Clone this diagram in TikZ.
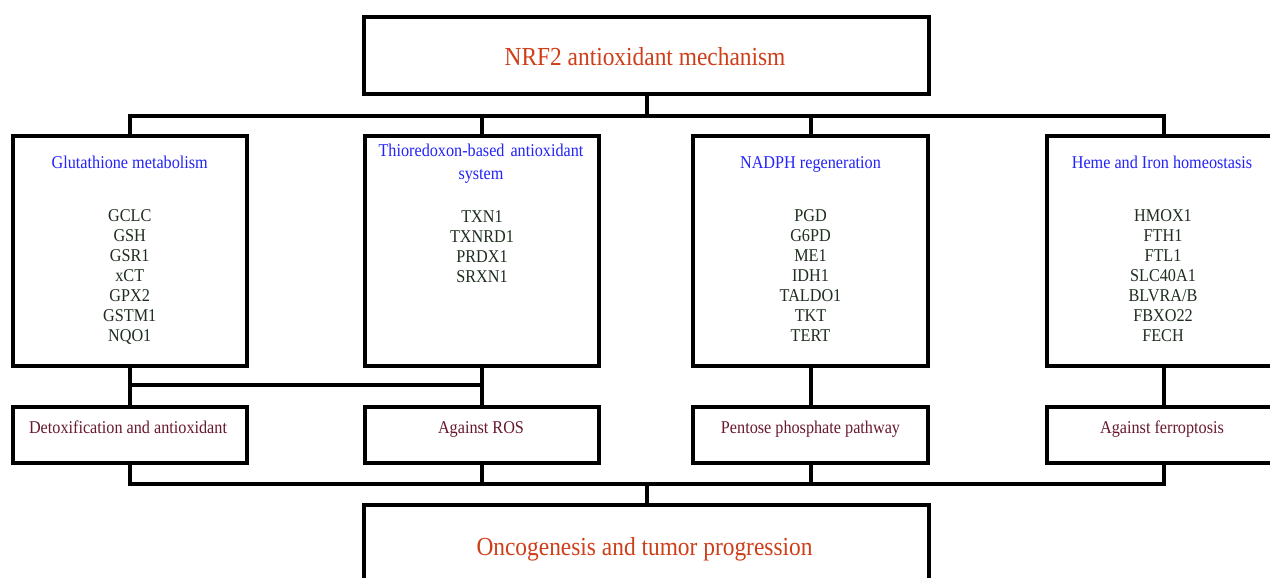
\documentclass[tikz,border=0pt]{standalone}
\usepackage{fontspec}
\setmainfont{Liberation Serif}[FakeStretch=0.9]
\definecolor{titlered}{RGB}{206,62,24}
\definecolor{hdrblue}{RGB}{35,35,250}
\definecolor{genetext}{RGB}{30,45,30}
\definecolor{rowtext}{RGB}{105,25,45}
\begin{document}
\begin{tikzpicture}[x=1pt,y=-1pt,
  box/.style={draw, line width=4pt, fill=white, inner sep=0pt, minimum width=234.5pt},
  bigbox/.style={draw, line width=4pt, fill=white, inner sep=0pt, minimum width=565pt},
  wire/.style={line width=4pt, line join=miter},
  bigtext/.style={anchor=base, inner sep=0pt, text=titlered, font=\fontsize{26}{30}\selectfont},
  hdr/.style={anchor=base, inner sep=0pt, text=hdrblue, font=\fontsize{18}{22}\selectfont},
  genes/.style={anchor=base, inner sep=0pt, text=genetext, text width=200pt, align=center, font=\fontsize{18}{20}\selectfont},
  rowlabel/.style={anchor=base, inner sep=0pt, text=rowtext, font=\fontsize{18}{22}\selectfont}
]
\useasboundingbox (0,0) rectangle (1270,578);
\clip (0,0) rectangle (1270,578);
\fill[white] (0,0) rectangle (1270,578);

% boxes
\node[bigbox, minimum height=77pt] (top) at (646.5,55.5) {};
\node[box, minimum height=230pt] (b1) at (129.75,251) {};
\node[box, minimum height=230pt] (b2) at (482,251) {};
\node[box, minimum height=230pt] (b3) at (810.5,251) {};
\node[box, minimum height=230pt] (b4) at (1163.75,251) {};
\node[box, minimum height=56pt] (r1) at (129.75,435) {};
\node[box, minimum height=56pt] (r2) at (482,435) {};
\node[box, minimum height=56pt] (r3) at (810.5,435) {};
\node[box, minimum height=56pt] (r4) at (1163.75,435) {};
\node[bigbox, minimum height=110pt] (bot) at (646.5,560) {};

% connectors
\coordinate (busT) at (0,116);
\coordinate (link) at (0,384.5);
\coordinate (busB) at (0,484);
\draw[wire] (top.south) -- (top.south |- busT);
\draw[wire] (b1.north) -- (b1.north |- busT) -- (b4.north |- busT) -- (b4.north);
\draw[wire] (b2.north) -- (b2.north |- busT);
\draw[wire] (b3.north) -- (b3.north |- busT);
\draw[wire] (b1.south) -- (r1.north);
\draw[wire] (b2.south) -- (r2.north);
\draw[wire] (b3.south) -- (r3.north);
\draw[wire] (b4.south) -- (r4.north);
\draw[wire] (b1.south |- link) -- (b2.south |- link);
\draw[wire] (r1.south) -- (r1.south |- busB) -- (r4.south |- busB) -- (r4.south);
\draw[wire] (r2.south) -- (r2.south |- busB);
\draw[wire] (r3.south) -- (r3.south |- busB);
\draw[wire] (bot.north) -- (bot.north |- busB);

% texts
\node[bigtext] (ttitle) at (645,66) {NRF2 antioxidant mechanism};
\node[hdr] (h1) at (129.75,168) {Glutathione metabolism};
\node[hdr, text width=280pt, align=center] (h2) at (481,157) {Thioredoxon-based antioxidant\\system};
\node[hdr] (h3) at (810.5,168) {NADPH regeneration};
\node[hdr] (h4) at (1162,168) {Heme and Iron homeostasis};
\node[genes] (g1) at (129.75,221) {GCLC\\GSH\\GSR1\\xCT\\GPX2\\GSTM1\\NQO1};
\node[genes] (g2) at (482,222) {TXN1\\TXNRD1\\PRDX1\\SRXN1};
\node[genes] (g3) at (810.5,221) {PGD\\G6PD\\ME1\\IDH1\\TALDO1\\TKT\\TERT};
\node[genes] (g4) at (1163,221) {HMOX1\\FTH1\\FTL1\\SLC40A1\\BLVRA/B\\FBXO22\\FECH};
\node[rowlabel] (l1) at (128,433) {Detoxification and antioxidant};
\node[rowlabel] (l2) at (481,433) {Against ROS};
\node[rowlabel] (l3) at (810.5,433) {Pentose phosphate pathway};
\node[rowlabel] (l4) at (1162,433) {Against ferroptosis};
\node[bigtext] (btitle) at (644.5,555) {Oncogenesis and tumor progression};
\end{tikzpicture}
\end{document}
